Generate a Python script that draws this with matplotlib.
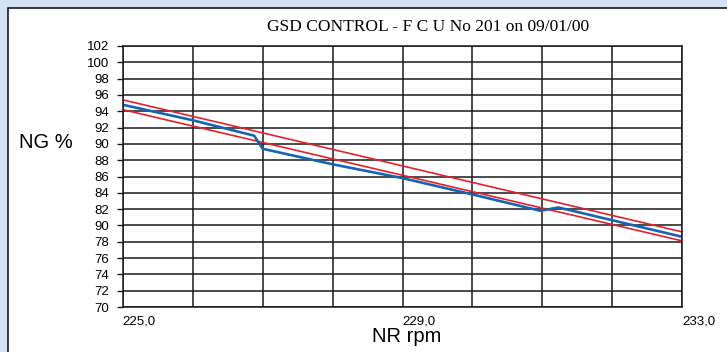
import matplotlib
matplotlib.use('Agg')
import matplotlib.pyplot as plt
from matplotlib.patches import Rectangle

# Data
nr_ticks = [225, 226, 227, 228, 229, 230, 231, 232, 233]
nr_labels = ['225,0', '', '', '', '229,0', '', '', '', '233,0']
ng_ticks = [70, 72, 74, 76, 78, 80, 82, 84, 86, 88, 90, 92, 94, 96, 98, 100, 102]
ng_labels = ['70', '72', '74', '76', '78', '90', '82', '84', '86', '88',
             '90', '92', '94', '96', '98', '100', '102']

# upper / lower limit lines
upper_x = [225, 233]
upper_y = [95.4, 79.2]
lower_x = [225, 233]
lower_y = [94.2, 78.1]

# measured curve
meas_x = [225.0, 226.0, 226.88, 227.0, 228.0, 229.0, 230.0, 230.97, 231.23, 233.0]
meas_y = [94.8, 92.9, 91.0, 89.4, 87.5, 85.8, 83.8, 81.8, 82.2, 78.6]

W, H = 727, 352
fig = plt.figure(figsize=(W / 100, H / 100), dpi=100)
fig.patch.set_facecolor('#d3e3f3')

# white panel with dark border (behind the axes)
panel = Rectangle((8 / W, -0.05), 1.0, 1 - 8 / H + 0.05, transform=fig.transFigure,
                  facecolor='white', edgecolor='#1a1a1a', linewidth=1.2, zorder=-10)
fig.patches.append(panel)

ax = fig.add_axes([122.7 / W, 1 - 307 / H, (682.3 - 122.7) / W, (307 - 46) / H])
ax.set_zorder(1)
ax.set_xlim(225, 233)
ax.set_ylim(70, 102)

ax.set_xticks(nr_ticks)
ax.set_xticklabels(nr_labels, ha='left', fontsize=9.5, family='Liberation Sans')
ax.set_yticks(ng_ticks)
ax.set_yticklabels(ng_labels, fontsize=9.5, family='Liberation Sans')
ax.tick_params(axis='x', length=0, pad=6)
ax.tick_params(axis='y', length=4, width=1, pad=6, color='#1a1a1a')

ax.grid(True, color='#1a1a1a', linewidth=1.1)
ax.set_axisbelow(True)
for sp in ax.spines.values():
    sp.set_color('#1a1a1a')
    sp.set_linewidth(1.1)

ax.plot(upper_x, upper_y, color='#e3202b', linewidth=1.2)
ax.plot(lower_x, lower_y, color='#e3202b', linewidth=1.2)
ax.plot(meas_x, meas_y, color='#1565b5', linewidth=1.9)

fig.text(428 / W, 1 - 27 / H, 'GSD CONTROL - F C U No 201 on 09/01/00',
         ha='center', va='center', fontsize=12.5, family='Liberation Serif')
fig.text(19 / W, 1 - 143 / H, 'NG %', ha='left', va='center',
         fontsize=14.5, family='Liberation Sans')
fig.text(372 / W, 1 - 337 / H, 'NR rpm', ha='left', va='center',
         fontsize=14.5, family='Liberation Sans')

fig.savefig('out.png', dpi=100, facecolor=fig.get_facecolor())
